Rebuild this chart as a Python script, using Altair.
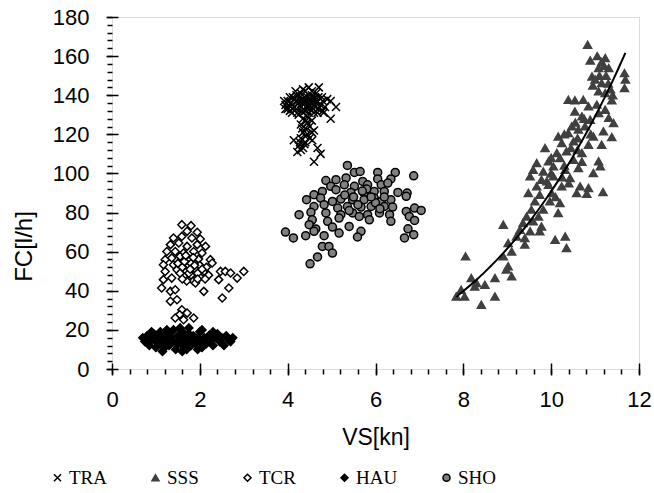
import altair as alt
import pandas as pd

series_order = ["TRA", "SSS", "TCR", "HAU", "SHO"]

tra_points = [
    (4.00, 137), (4.05, 139), (4.10, 135), (4.15, 138), (4.20, 140), (4.25, 136), (4.30, 141),
    (4.35, 138), (4.40, 142), (4.45, 139), (4.50, 137), (4.55, 140), (4.60, 138), (4.65, 136),
    (4.70, 139), (4.75, 135), (4.80, 137), (4.85, 134), (4.90, 138), (4.00, 133), (4.10, 131),
    (4.20, 133), (4.30, 134), (4.40, 132), (4.50, 133), (4.60, 131), (4.70, 133), (4.80, 132),
    (4.25, 130), (4.35, 128), (4.45, 129), (4.55, 127), (4.15, 134), (4.50, 135), (4.38, 136),
    (4.42, 134), (4.28, 137), (4.62, 134), (3.95, 135), (4.05, 132), (4.35, 143), (4.55, 142),
    (4.71, 144), (3.92, 137), (3.95, 133), (4.18, 142), (4.48, 144), (4.65, 141),
    (4.08, 136), (4.12, 139), (4.22, 137), (4.32, 136), (4.42, 137), (4.52, 138), (4.58, 136),
    (4.68, 137), (4.78, 139), (4.12, 133), (4.22, 131), (4.32, 132), (4.48, 131), (4.58, 133),
    (4.68, 131), (4.38, 139), (4.28, 139), (4.62, 139), (4.02, 135), (4.46, 135), (4.35, 131),
    (4.30, 125), (4.40, 123), (4.35, 121), (4.45, 120), (4.30, 118), (4.40, 116), (4.25, 114),
    (4.35, 113), (4.30, 112), (4.40, 119), (4.50, 124), (4.55, 121), (4.50, 118), (4.60, 122),
    (4.45, 126), (4.38, 115), (4.33, 123), (4.42, 127), (4.28, 116),
    (4.98, 137), (5.10, 134), (4.98, 128), (4.56, 117), (4.68, 113), (4.75, 110), (4.60, 106),
    (4.14, 117), (4.22, 111), (4.82, 131),
]

sss_points = [
    (10.83, 165.8), (10.89, 157.8), (11.23, 159.0), (11.08, 153.9), (11.31, 153.9), (10.93, 149.6),
    (11.67, 151.3), (11.69, 148.0), (11.67, 143.7), (11.15, 146.2), (11.08, 142.0), (11.23, 141.1),
    (10.39, 137.7), (10.54, 137.4), (10.73, 137.7), (11.38, 137.4), (10.85, 134.3), (11.04, 135.2),
    (11.23, 132.6), (10.54, 131.7), (10.70, 129.2), (11.31, 128.4), (11.42, 125.8), (10.89, 127.5),
    (11.08, 130.9), (10.47, 124.1), (10.62, 122.4), (10.77, 124.1), (11.19, 121.5), (11.38, 118.6),
    (10.16, 118.9), (10.39, 120.7), (10.96, 118.9), (10.24, 115.6), (10.51, 116.4), (10.85, 114.7),
    (11.15, 114.7), (9.86, 113.0), (10.13, 110.5), (10.35, 111.3), (10.70, 110.5), (9.67, 105.3),
    (9.94, 106.2), (10.20, 107.9), (10.51, 107.0), (11.08, 106.2), (9.59, 101.9), (9.82, 101.0),
    (10.05, 103.6), (10.32, 101.9), (10.62, 102.8), (11.12, 103.6), (9.52, 98.5), (9.78, 96.8),
    (10.05, 98.5), (10.43, 97.7), (10.96, 100.2), (9.67, 93.4), (9.94, 94.2), (10.24, 93.4),
    (10.66, 93.4), (10.85, 92.6), (9.48, 90.0), (9.74, 89.1), (10.01, 90.0), (10.58, 90.0),
    (10.81, 89.6), (11.18, 90.5), (9.63, 85.7), (9.97, 85.7), (10.20, 84.9), (9.55, 81.5),
    (9.82, 81.5), (10.16, 79.8), (9.44, 78.0), (9.71, 78.0), (9.36, 74.7), (9.59, 75.5),
    (8.91, 73.8), (9.29, 71.2), (9.78, 72.9), (9.52, 70.4), (9.74, 70.4), (9.21, 67.8),
    (9.40, 67.0), (9.40, 63.6), (10.09, 66.1), (10.32, 67.8), (10.35, 61.9), (9.02, 64.4),
    (9.10, 60.1), (8.91, 57.6), (8.05, 57.6), (9.02, 52.5), (8.98, 50.8), (9.10, 47.4),
    (8.72, 46.5), (8.49, 43.1), (8.30, 44.0), (8.18, 46.5), (7.95, 40.5), (7.84, 37.1),
    (8.03, 37.1), (8.41, 32.9), (8.72, 37.1), (8.26, 42.2),
    (10.30, 104), (10.45, 113), (10.60, 118), (10.00, 100), (10.40, 95), (10.70, 106),
    (10.25, 98), (10.55, 126), (10.90, 120), (10.10, 88), (9.90, 96), (10.60, 112),
    (10.30, 120), (10.75, 128), (10.00, 108),
    (11.00, 148), (11.10, 150), (11.20, 155), (11.25, 150), (11.15, 157), (11.30, 146),
    (10.95, 145), (11.05, 160), (11.35, 143), (11.40, 140),
]

tcr_points = [
    (1.59, 73.8), (1.80, 73.3), (1.71, 70.4), (1.94, 69.9), (1.40, 67.0), (1.59, 67.8),
    (1.82, 67.0), (2.01, 66.5), (1.33, 63.6), (1.52, 64.4), (1.71, 62.7), (1.94, 63.6),
    (2.13, 62.7), (1.25, 60.1), (1.44, 60.1), (1.63, 59.3), (1.86, 60.1), (2.05, 59.3),
    (1.36, 56.8), (1.55, 57.6), (1.78, 55.9), (1.97, 56.2), (2.24, 55.9), (1.21, 55.9),
    (1.17, 53.3), (1.40, 53.3), (2.28, 54.2), (1.21, 49.9), (1.48, 50.8), (2.47, 49.9),
    (2.58, 49.9), (2.70, 49.1), (3.00, 49.9), (2.85, 46.5), (1.17, 45.7), (1.36, 46.5),
    (2.43, 45.7), (1.13, 41.4), (1.33, 39.7), (1.44, 40.5), (2.09, 39.7), (2.66, 41.4),
    (2.51, 36.3), (1.33, 34.6), (1.48, 35.4), (1.59, 30.3), (1.54, 27.8), (1.71, 28.6),
    (1.86, 26.1), (1.63, 25.2), (1.44, 26.1),
    (1.60, 52), (1.70, 50), (1.80, 48), (1.90, 51), (2.00, 47), (1.75, 53), (1.65, 47),
    (1.85, 45), (1.95, 49), (2.10, 50), (2.20, 48), (1.55, 49), (1.70, 45), (1.80, 54),
    (2.00, 53), (1.90, 44), (1.50, 54), (2.15, 52),
    (1.65, 55), (1.85, 57), (1.75, 49), (1.95, 46), (1.60, 46), (2.05, 51), (1.68, 58),
    (1.88, 53), (1.78, 51), (2.12, 46),
]

hau_points = [
    (0.70, 16), (0.75, 14), (0.80, 17), (0.85, 12), (0.90, 15), (0.95, 18), (1.00, 14),
    (1.00, 11), (1.05, 16), (1.10, 19), (1.10, 13), (1.15, 15), (1.20, 17), (1.20, 11),
    (1.25, 14), (1.30, 18), (1.30, 12), (1.35, 16), (1.40, 20), (1.40, 14), (1.45, 10),
    (1.50, 17), (1.50, 13), (1.55, 15), (1.60, 19), (1.60, 12), (1.65, 16), (1.70, 14),
    (1.70, 10), (1.75, 18), (1.80, 15), (1.80, 12), (1.85, 17), (1.90, 13), (1.95, 16),
    (2.00, 19), (2.00, 14), (2.05, 11), (2.10, 16), (2.15, 13), (2.20, 17), (2.25, 15),
    (2.30, 12), (2.35, 16), (2.40, 18), (2.45, 14), (2.50, 16), (2.55, 12), (2.60, 17),
    (2.65, 15), (2.70, 14), (2.75, 16), (0.90, 19), (1.25, 20), (1.55, 21), (1.75, 21),
    (2.05, 20), (2.30, 19), (1.15, 9), (1.60, 9), (1.95, 10),
]

sho_points = [
    (5.36, 104.1), (5.52, 100.5), (5.65, 101.0), (6.05, 100.5), (6.45, 100.5), (6.87, 98.8),
    (4.87, 96.4), (5.10, 96.8), (5.33, 97.7), (5.71, 95.9), (6.05, 97.2), (6.35, 97.2),
    (4.98, 93.4), (5.29, 94.2), (5.52, 93.4), (5.82, 94.2), (6.13, 94.2), (6.28, 95.1),
    (4.60, 89.1), (4.79, 90.8), (5.10, 91.7), (5.44, 90.3), (5.74, 90.0), (5.97, 90.8),
    (6.20, 90.8), (6.51, 90.3), (6.72, 90.0), (4.43, 86.6), (4.75, 87.4), (5.02, 85.7),
    (5.21, 86.9), (5.48, 86.6), (5.74, 86.6), (5.97, 87.4), (6.13, 85.7), (6.35, 86.6),
    (6.70, 88.3), (4.60, 83.1), (4.83, 84.0), (5.14, 82.3), (5.36, 83.1), (5.67, 82.8),
    (5.90, 83.1), (6.20, 83.1), (6.39, 82.8), (6.70, 80.6), (6.89, 82.3), (7.04, 81.1),
    (4.26, 78.9), (4.53, 80.1), (4.87, 79.8), (5.21, 78.9), (5.48, 79.8), (5.82, 78.9),
    (6.09, 79.8), (6.32, 78.9), (6.77, 78.0), (4.56, 76.3), (4.91, 75.5), (5.17, 77.2),
    (5.63, 78.0), (5.86, 76.3), (6.35, 75.5), (6.89, 76.0), (4.49, 73.8), (4.64, 71.6),
    (5.02, 72.6), (5.40, 72.9), (5.67, 70.4), (6.74, 71.7), (3.95, 70.0), (4.13, 67.0),
    (4.41, 68.2), (4.60, 70.4), (4.83, 68.2), (5.17, 69.5), (5.59, 67.5), (6.66, 67.0),
    (6.87, 68.7), (4.79, 62.7), (4.94, 62.7), (5.02, 59.3), (4.68, 57.3), (4.51, 53.8),
    (5.50, 88), (5.80, 92), (6.00, 85), (5.60, 84), (5.30, 89), (5.90, 88), (6.20, 88),
    (5.40, 81), (5.70, 91), (6.10, 82),
]

x_major = [0, 2, 4, 6, 8, 10, 12]
y_major = [0, 20, 40, 60, 80, 100, 120, 140, 160, 180]
x_minor = [round(i * 0.4, 1) for i in range(31)]
y_minor = [i * 4 for i in range(46)]

rows = []
for name, pts in zip(series_order, [tra_points, sss_points, tcr_points, hau_points, sho_points]):
    for vx, vy in pts:
        rows.append({"series": name, "vs": vx, "fc": vy})
df = pd.DataFrame(rows)

xscale = alt.Scale(domain=[0, 12], nice=False, zero=False)
yscale = alt.Scale(domain=[0, 180], nice=False, zero=False)

shape_scale = alt.Scale(domain=series_order,
                        range=["M-1,-1L1,1M-1,1L1,-1", "triangle-up", "diamond", "diamond", "circle"])
fill_scale = alt.Scale(domain=series_order, range=["#000000", "#404040", "#ffffff", "#000000", "#808080"])
stroke_scale = alt.Scale(domain=series_order, range=["#000000", "#404040", "#000000", "#000000", "#000000"])

legend = alt.Legend(orient="none", legendX=-64, legendY=451, direction="horizontal", columns=5,
                    columnPadding=39, labelFont="Liberation Serif", labelFontSize=19,
                    labelColor="black", labelOffset=2, symbolSize=50, symbolStrokeWidth=1.5)

FONT = "Liberation Sans"

x_axis_major = alt.Axis(values=x_major, orient="bottom", offset=-6, tickSize=12, tickWidth=1.5,
                        tickColor="black", domain=False, grid=False, labelFont=FONT, labelFontSize=22,
                        labelColor="black", labelPadding=14, labelFlush=False, labelOverlap=False,
                        titleFont=FONT, titleFontSize=23, titleFontWeight="normal", titleColor="black",
                        titlePadding=16)
y_axis_major = alt.Axis(values=y_major, orient="left", offset=-6, tickSize=12, tickWidth=1.5,
                        tickColor="black", domain=False, grid=False, labelFont=FONT, labelFontSize=22,
                        labelColor="black", labelPadding=17, labelFlush=False, labelOverlap=False,
                        titleFont=FONT, titleFontSize=24, titleFontWeight="normal", titleColor="black",
                        titlePadding=16, titleY=229)
x_axis_minor = alt.Axis(values=x_minor, orient="bottom", tickSize=5, tickWidth=1.5, tickColor="black",
                        domain=False, grid=False, labels=False)
y_axis_minor = alt.Axis(values=y_minor, orient="left", tickSize=5, tickWidth=1.5, tickColor="black",
                        domain=False, grid=False, labels=False)

base = alt.Chart(df)

minor = base.mark_point(opacity=0).encode(
    x=alt.X("vs:Q", scale=xscale, axis=x_axis_minor, title=None),
    y=alt.Y("fc:Q", scale=yscale, axis=y_axis_minor, title=None),
)

points = base.mark_point(filled=True, opacity=1, strokeWidth=1.5, size=64).encode(
    x=alt.X("vs:Q", scale=xscale, axis=x_axis_major, title="VS[kn]"),
    y=alt.Y("fc:Q", scale=yscale, axis=y_axis_major, title="FC[l/h]"),
    shape=alt.Shape("series:N", scale=shape_scale, legend=legend, title=None),
    fill=alt.Fill("series:N", scale=fill_scale, legend=legend, title=None),
    stroke=alt.Stroke("series:N", scale=stroke_scale, legend=legend, title=None),
)

trend = base.transform_filter(alt.datum.series == "SSS").transform_regression(
    "vs", "fc", method="pow"
).mark_line(color="black", strokeWidth=2).encode(
    x=alt.X("vs:Q", scale=xscale, axis=None),
    y=alt.Y("fc:Q", scale=yscale, axis=None),
)

chart = alt.layer(minor, points, trend).resolve_axis(x="independent", y="independent").properties(
    width=527, height=352,
    autosize=alt.AutoSizeParams(type="none"),
    padding={"left": 112, "top": 17, "right": 15, "bottom": 124},
).configure_view(stroke="black", strokeWidth=2).configure(background="white")

chart.save("out.html", embed_options={"renderer": "svg", "actions": False})
